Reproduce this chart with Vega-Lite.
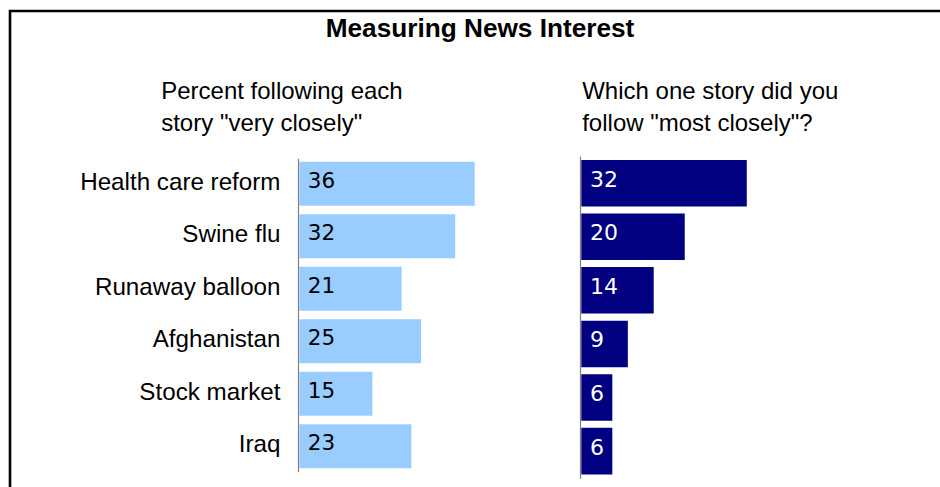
{
  "$schema": "https://vega.github.io/schema/vega-lite/v6.json",
  "autosize": {"type": "none"},
  "width": 935,
  "height": 480,
  "padding": {"left": 10, "top": 11, "right": -5, "bottom": -4},
  "background": "white",
  "config": {
    "view": {"stroke": "black", "strokeWidth": 2.6, "fill": "white"},
    "axis": {"grid": false}
  },
  "title": {
    "text": "Measuring News Interest",
    "anchor": "middle",
    "frame": "group",
    "offset": -24,
    "baseline": "alphabetic",
    "dx": 2.5,
    "dy": 28.5,
    "font": "Liberation Sans",
    "fontSize": 26.2,
    "fontWeight": "bold",
    "color": "black"
  },
  "data": {
    "values": [
      {"story": "Health care reform", "very": 36, "most": 32},
      {"story": "Swine flu", "very": 32, "most": 20},
      {"story": "Runaway balloon", "very": 21, "most": 14},
      {"story": "Afghanistan", "very": 25, "most": 9},
      {"story": "Stock market", "very": 15, "most": 6},
      {"story": "Iraq", "very": 23, "most": 6}
    ]
  },
  "layer": [
    {
      "encoding": {
        "y": {
          "field": "story",
          "type": "nominal",
          "sort": null,
          "scale": {"range": [147.3, 460.7], "paddingInner": 0.162, "paddingOuter": 0.066},
          "axis": {
            "orient": "left",
            "offset": -288,
            "ticks": false,
            "tickSize": 0,
            "domain": true,
            "domainColor": "#808080",
            "domainWidth": 1.2,
            "labelFont": "Liberation Sans",
            "labelFontSize": 24.2,
            "labelColor": "black",
            "labelPadding": 18,
            "labelBaseline": "middle",
            "labelOffset": -1,
            "labelLimit": 400,
            "title": ["Percent following each", "story \"very closely\""],
            "titleX": -137.3,
            "titleY": 87,
            "titleAngle": 0,
            "titleAlign": "left",
            "titleBaseline": "alphabetic",
            "titleLineHeight": 32,
            "titleFont": "Liberation Sans",
            "titleFontSize": 24,
            "titleFontWeight": "normal",
            "titleColor": "black"
          }
        }
      },
      "layer": [
        {
          "mark": {"type": "bar", "color": "#99CCFF"},
          "encoding": {
            "x": {
              "field": "very",
              "type": "quantitative",
              "scale": {"domain": [0, 36], "range": [289.3, 464.7], "nice": false, "zero": true},
              "axis": null
            }
          }
        },
        {
          "mark": {"type": "text", "align": "left", "baseline": "alphabetic", "dx": 8.4, "dy": 4, "font": "DejaVu Sans", "fontSize": 21.5, "color": "black"},
          "encoding": {
            "x": {"datum": 0, "type": "quantitative"},
            "text": {"field": "very", "type": "quantitative"}
          }
        }
      ]
    },
    {
      "encoding": {
        "y": {
          "field": "story",
          "type": "nominal",
          "sort": null,
          "scale": {"range": [145, 467.3], "paddingInner": 0.132, "paddingOuter": 0.073},
          "axis": {
            "orient": "left",
            "offset": -570,
            "ticks": false,
            "tickSize": 0,
            "labels": false,
            "domain": true,
            "domainColor": "#808080",
            "domainWidth": 1.2,
            "title": ["Which one story did you", "follow \"most closely\"?"],
            "titleX": 1.7,
            "titleY": 87,
            "titleAngle": 0,
            "titleAlign": "left",
            "titleBaseline": "alphabetic",
            "titleLineHeight": 32,
            "titleFont": "Liberation Sans",
            "titleFontSize": 24,
            "titleFontWeight": "normal",
            "titleColor": "black"
          }
        }
      },
      "layer": [
        {
          "mark": {"type": "bar", "color": "#000080"},
          "encoding": {
            "x": {
              "field": "most",
              "type": "quantitative",
              "scale": {"domain": [0, 32], "range": [571.3, 736.8], "nice": false, "zero": true},
              "axis": null
            }
          }
        },
        {
          "mark": {"type": "text", "align": "left", "baseline": "alphabetic", "dx": 8.7, "dy": 3.5, "font": "DejaVu Sans", "fontSize": 22, "color": "white"},
          "encoding": {
            "x": {"datum": 0, "type": "quantitative"},
            "text": {"field": "most", "type": "quantitative"}
          }
        }
      ]
    }
  ],
  "resolve": {"scale": {"x": "independent", "y": "independent"}, "axis": {"y": "independent"}}
}
